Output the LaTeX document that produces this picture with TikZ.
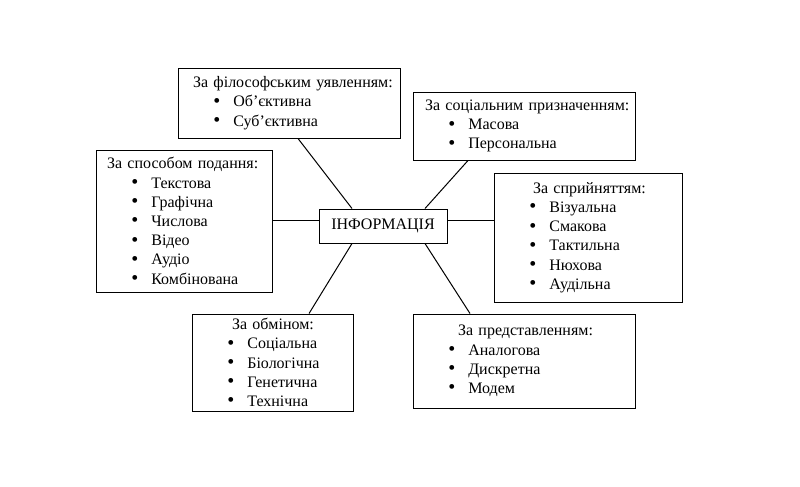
\documentclass[tikz,border=0pt]{standalone}
\usepackage{fontspec}
\setmainfont{Liberation Serif}
\newcommand{\bul}[1]{\hspace*{26.5pt}\makebox[15pt][l]{\raisebox{-0.3pt}{\fontsize{15}{14.4}\selectfont\textbullet}}#1}

\begin{document}
\begin{tikzpicture}[x=0.75pt, y=-0.75pt, line width=0.75pt,
  every node/.style={font=\fontsize{12}{14.4}\selectfont},
  box/.style={draw, inner xsep=0pt, inner ysep=0pt, align=left}]
  \useasboundingbox (0,0) rectangle (800,486);
  % centre
  \node[draw, minimum width=96pt, minimum height=25.5pt] (info) at (383,226) {ІНФОРМАЦІЯ};
  % classes
  \node[box, text width=166.5pt, minimum height=52.5pt] (phil) at (289,103)
    {\hspace*{11.25pt}За філософським уявленням:\\ \bul{Об’єктивна}\\ \bul{Суб’єктивна}};
  \node[box, text width=166.5pt, minimum height=51pt] (soc) at (524,126)
    {\hspace*{9pt}За соціальним призначенням:\\ \bul{Масова}\\ \bul{Персональна}};
  \node[box, text width=132pt, minimum height=106.5pt] (spos) at (184,221)
    {\hspace*{8.25pt}За способом подання:\\ \bul{Текстова}\\ \bul{Графічна}\\ \bul{Числова}\\ \bul{Відео}\\ \bul{Аудіо}\\ \bul{Комбінована}};
  \node[box, text width=141pt, minimum height=96.75pt] (perc) at (588,237.5)
    {\hspace*{29.25pt}За сприйняттям:\\ \bul{Візуальна}\\ \bul{Смакова}\\ \bul{Тактильна}\\ \bul{Нюхова}\\ \bul{Аудільна}};
  \node[box, text width=120.75pt, minimum height=72.75pt] (exch) at (272.5,362.5)
    {\hspace*{30pt}За обміном:\\ \bul{Соціальна}\\ \bul{Біологічна}\\ \bul{Генетична}\\ \bul{Технічна}};
  \node[box, text width=166.5pt, minimum height=70.5pt] (repr) at (524,361)
    {\hspace*{33.75pt}За представленням:\\ \bul{Аналогова}\\ \bul{Дискретна}\\ \bul{Модем}};
  % links
  \foreach \a/\sa/\b/\sb in {phil.south/6.75/info.north/-23.25, soc.south/-42/info.north/31.5,
      exch.north/27.4/info.south/-23.25, repr.north/-40.5/info.south/31.5}
    \draw ([xshift=\sa pt]\a) -- ([xshift=\sb pt]\b);
  \draw ([yshift=4.5pt]info.west) -- ([yshift=4.5pt]info.west -| spos.east);
  \draw ([yshift=4.5pt]info.east) -- ([yshift=4.5pt]info.east -| perc.west);
\end{tikzpicture}
\end{document}
